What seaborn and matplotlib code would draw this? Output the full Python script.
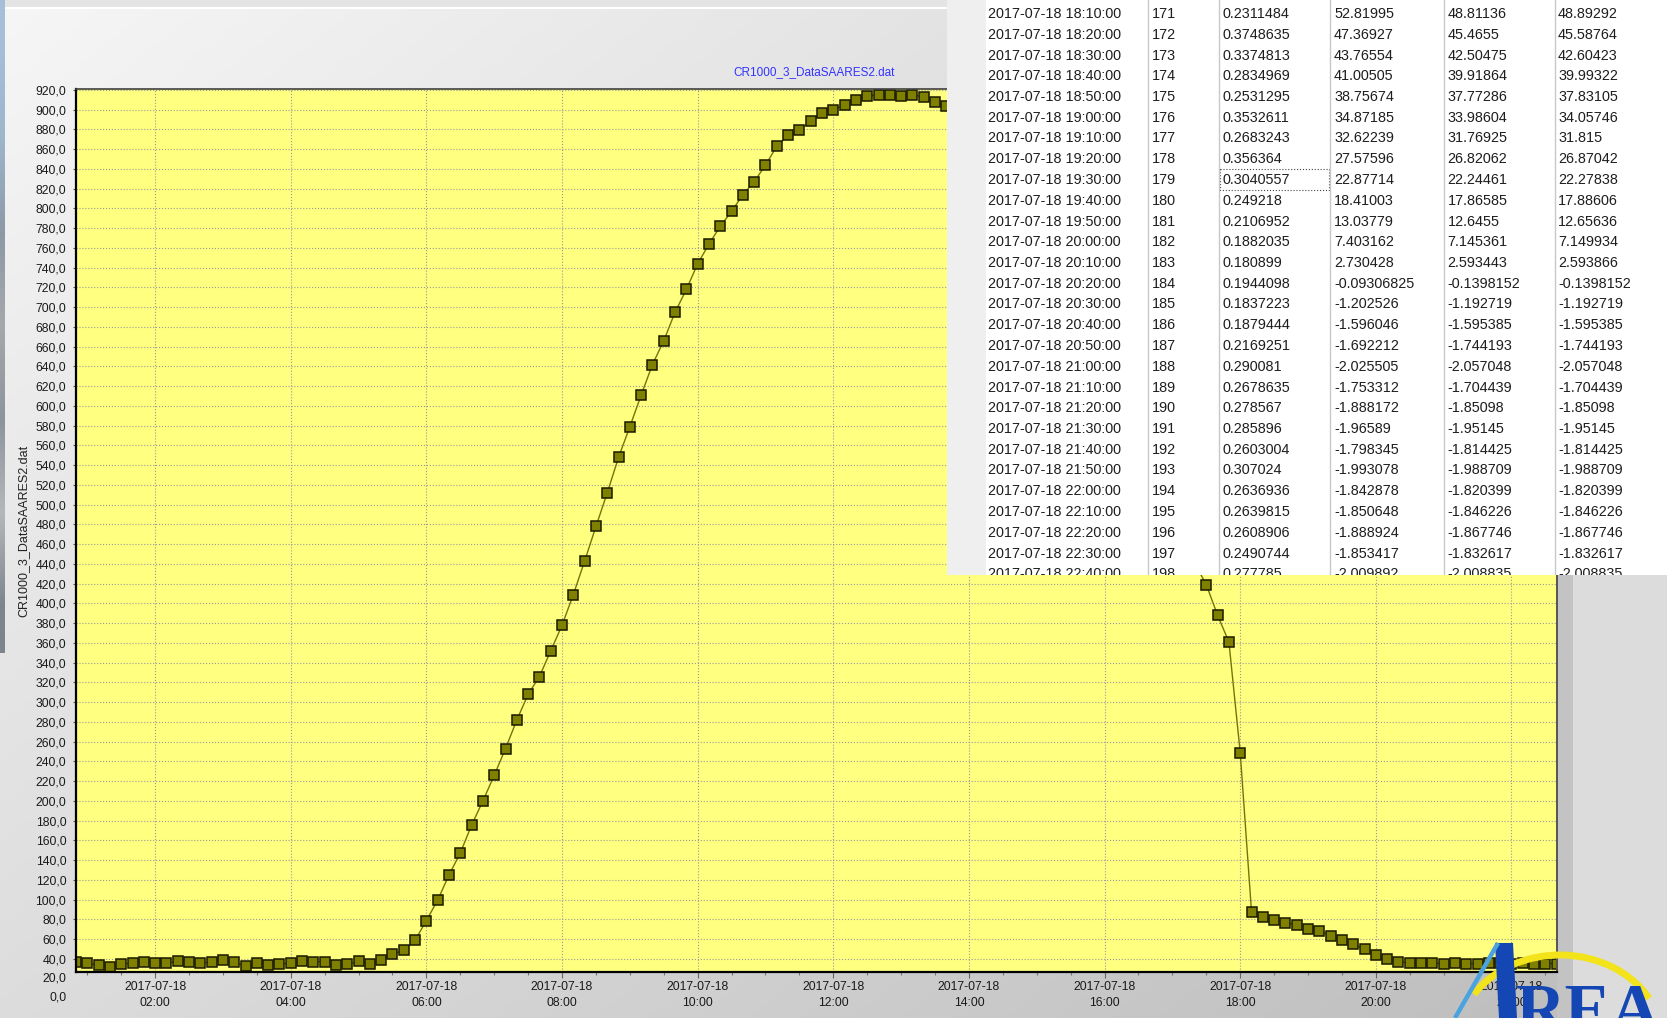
import matplotlib
matplotlib.use("Agg")
import matplotlib.pyplot as plt
from matplotlib.patches import Rectangle, Polygon, Arc
import numpy as np
import pandas as pd
import seaborn as sns

W, H = 1667, 1018

# values, one sample every 10 minutes on 2017-07-18
morning_start = "2017-07-18 00:50"
morning_vals = [36.6, 35.9, 33.6, 32.3, 34.6, 35.9, 37.0, 35.6, 35.6, 38.2,
                37.0, 35.6, 37.3, 39.3, 37.0, 32.6, 35.6, 33.9, 35.3, 35.6,
                38.2, 37.3, 37.3, 33.6, 34.6, 37.6, 34.6, 39.3, 45.0, 48.7,
                59.0, 78.9, 99.6, 125.1, 147.3, 175.6, 200, 226, 253, 282,
                308, 326, 352, 378, 409, 443, 478, 512, 548, 579,
                611, 642, 666, 695, 718, 744, 764, 782, 797, 814,
                827, 844, 863, 874, 879, 889, 897, 900, 905, 910,
                914, 915, 915, 914, 915, 913, 908, 904]
# the part between 13:50 and 17:20 is hidden behind the table
evening_start = "2017-07-18 17:30"
evening_vals = [419, 388, 361, 249, 87.9, 82.7, 79.3, 76.6, 74.5, 70.7,
                68.5, 63.7, 59.2, 54.9, 49.7, 44.4, 39.9, 37.2, 36.1, 35.7,
                35.6, 35.3, 35.5, 35.4, 35.3, 35.5, 35.5, 35.4, 35.5, 35.3,
                35.4, 35.3]

y_ticks = list(range(40, 921, 20))
y_labels = [f"{v},0" for v in y_ticks]
x_hours = ["02:00", "04:00", "06:00", "08:00", "10:00", "12:00",
           "14:00", "16:00", "18:00", "20:00", "22:00"]
x_start, x_end = "2017-07-18 00:50", "2017-07-18 22:40"
series_name = "CR1000_3_DataSAARES2.dat"

# table window laid over the chart
tbl_clock = ["18:10", "18:20", "18:30", "18:40", "18:50", "19:00", "19:10",
             "19:20", "19:30", "19:40", "19:50", "20:00", "20:10", "20:20",
             "20:30", "20:40", "20:50", "21:00", "21:10", "21:20", "21:30",
             "21:40", "21:50", "22:00", "22:10", "22:20", "22:30", "22:40"]
tbl_rec = [str(n) for n in range(171, 199)]
tbl_c3 = ["0.2311484", "0.3748635", "0.3374813", "0.2834969", "0.2531295",
          "0.3532611", "0.2683243", "0.356364", "0.3040557", "0.249218",
          "0.2106952", "0.1882035", "0.180899", "0.1944098", "0.1837223",
          "0.1879444", "0.2169251", "0.290081", "0.2678635", "0.278567",
          "0.285896", "0.2603004", "0.307024", "0.2636936", "0.2639815",
          "0.2608906", "0.2490744", "0.277785"]
tbl_c4 = ["52.81995", "47.36927", "43.76554", "41.00505", "38.75674",
          "34.87185", "32.62239", "27.57596", "22.87714", "18.41003",
          "13.03779", "7.403162", "2.730428", "-0.09306825", "-1.202526",
          "-1.596046", "-1.692212", "-2.025505", "-1.753312", "-1.888172",
          "-1.96589", "-1.798345", "-1.993078", "-1.842878", "-1.850648",
          "-1.888924", "-1.853417", "-2.009892"]
tbl_c5 = ["48.81136", "45.4655", "42.50475", "39.91864", "37.77286",
          "33.98604", "31.76925", "26.82062", "22.24461", "17.86585",
          "12.6455", "7.145361", "2.593443", "-0.1398152", "-1.192719",
          "-1.595385", "-1.744193", "-2.057048", "-1.704439", "-1.85098",
          "-1.95145", "-1.814425", "-1.988709", "-1.820399", "-1.846226",
          "-1.867746", "-1.832617", "-2.008835"]
tbl_c6 = ["48.89292", "45.58764", "42.60423", "39.99322", "37.83105",
          "34.05746", "31.815", "26.87042", "22.27838", "17.88606",
          "12.65636", "7.149934", "2.593866", "-0.1398152", "-1.192719",
          "-1.595385", "-1.744193", "-2.057048", "-1.704439", "-1.85098",
          "-1.95145", "-1.814425", "-1.988709", "-1.820399", "-1.846226",
          "-1.867746", "-1.832617", "-2.008835"]

plt.rcParams["font.family"] = ["Liberation Sans", "DejaVu Sans"]

df = pd.concat([
    pd.DataFrame({"time": pd.date_range(morning_start, periods=len(morning_vals), freq="10min"),
                  "value": morning_vals}),
    pd.DataFrame({"time": pd.date_range(evening_start, periods=len(evening_vals), freq="10min"),
                  "value": evening_vals}),
], ignore_index=True)

fig = plt.figure(figsize=(W / 100, H / 100), dpi=100)

# window background (pixel coordinates)
bg = fig.add_axes([0, 0, 1, 1], zorder=0)
gx = np.linspace(0, 1, 400)[None, :]
gy = np.linspace(0, 1, 300)[:, None]
shade = 0.965 - 0.12 * gx - 0.10 * gy
bg.imshow(np.dstack([shade] * 3), extent=(0, 1573, H, 0), aspect="auto",
          interpolation="bilinear")
photo = np.array([[0.65, 0.75, 0.84], [0.62, 0.71, 0.80], [0.55, 0.60, 0.65],
                  [0.65, 0.66, 0.67], [0.55, 0.58, 0.61], [0.71, 0.72, 0.73],
                  [0.49, 0.52, 0.55]])[:, None, :]
bg.imshow(photo, extent=(0, 5, 653, 0), aspect="auto", interpolation="bilinear")
bg.add_patch(Rectangle((1573, 0), W - 1573, H, color="#dcdcdc", lw=0))
bg.add_patch(Rectangle((1557, 0), 16, H, color="#c3c3c3", lw=0))
bg.add_patch(Rectangle((5, 0), W, 7, color="#e4e4e4", lw=0))
bg.add_patch(Rectangle((5, 7), W, 1.5, color="white", lw=0))
bg.set_xlim(0, W)
bg.set_ylim(H, 0)
bg.axis("off")

# chart
ax = fig.add_axes([76 / W, (H - 971.7) / H, 1480.7 / W, 882.7 / H], zorder=2)
ax.set_facecolor("#ffff80")
sns.lineplot(data=df, x="time", y="value", ax=ax, estimator=None, sort=False,
             color="#74740a", linewidth=1.0, marker="s", markersize=7.4,
             markerfacecolor="#808000", markeredgecolor="#1a1a00",
             markeredgewidth=1.1)
ax.set_xlabel("")
ax.set_ylabel("")
ax.set_ylim(27.1, 921.0)
ax.set_yticks(y_ticks)
ax.set_yticklabels(y_labels)
ax.set_xlim(pd.Timestamp(x_start), pd.Timestamp(x_end))
ax.set_xticks([pd.Timestamp(f"2017-07-18 {h}") for h in x_hours])
ax.set_xticklabels([f"2017-07-18\n{h}" for h in x_hours], linespacing=1.45)
ax.set_xticks(pd.date_range("2017-07-18 01:00", "2017-07-18 22:30", freq="30min"), minor=True)
ax.grid(True, which="major", linestyle=":", color="#9a9a9a", linewidth=0.8)
ax.set_axisbelow(True)
ax.tick_params(axis="y", direction="out", length=2.5, width=0.8, color="#555555",
               labelsize=8.8, pad=4.5, labelcolor="#1a1a1a")
ax.tick_params(axis="x", which="major", direction="out", length=4, width=0.8,
               color="#666666", labelsize=8.8, pad=2.5, labelcolor="#1a1a1a")
ax.tick_params(axis="x", which="minor", direction="out", length=2.4, width=0.8,
               color="#777777")
for side in ["left", "bottom"]:
    ax.spines[side].set_linewidth(1.6)
    ax.spines[side].set_color("black")
ax.spines["top"].set_linewidth(1.2)
ax.spines["top"].set_color("#404040")
ax.spines["right"].set_linewidth(1.4)
ax.spines["right"].set_color("#555555")

fig.text(814 / W, 1 - 72 / H, series_name, ha="center", va="center",
         color="#3333ff", fontsize=8.5)
fig.text(23 / W, 1 - 531 / H, series_name, ha="center", va="center",
         rotation=90, color="#222222", fontsize=9)
for lab, ypx in [("20,0", 978.5), ("0,0", 998)]:
    fig.text(66.7 / W, 1 - ypx / H, lab, ha="right", va="center",
             fontsize=8.8, color="#1a1a1a")

# data table window
tab = fig.add_axes([947 / W, 1 - 575 / H, (W - 947) / W, 575 / H], zorder=5)
tab.set_xlim(947, W)
tab.set_ylim(575, 0)
tab.axis("off")
tab.add_patch(Rectangle((947, 0), 39, 575, color="#efefef", lw=0))
tab.add_patch(Rectangle((986, 0), W - 986, 575, color="white", lw=0))
for xs in [1147.5, 1219, 1330, 1443.8, 1554.5]:
    tab.plot([xs, xs], [0, 575], color="#c8c8c8", lw=1)
col_x = [988, 1152, 1222.5, 1334, 1447.5, 1558]
for k in range(len(tbl_clock)):
    row = [f"2017-07-18 {tbl_clock[k]}:00", tbl_rec[k], tbl_c3[k],
           tbl_c4[k], tbl_c5[k], tbl_c6[k]]
    yk = 14.0 + 20.75 * k
    for xc, txt in zip(col_x, row):
        tab.text(xc, yk, txt, ha="left", va="center", fontsize=10.4,
                 color="#1e1e1e", clip_on=True)
tab.add_patch(Rectangle((1220, 169), 109, 21, fill=False, ls=":",
                        ec="#444444", lw=0.8))

# logo in the bottom right corner
lg = fig.add_axes([0, 0, 1, 1], zorder=6)
lg.set_xlim(0, W)
lg.set_ylim(H, 0)
lg.axis("off")
lg.plot([1455, 1498], [1018, 943], color="#4aa3df", lw=3.2, solid_capstyle="butt")
lg.add_patch(Arc((1560, 1040), 204, 170, theta1=208, theta2=335,
                 color="#f2e31a", lw=5))
lg.add_patch(Polygon([(1495, 943), (1513, 943), (1517, 1018), (1499, 1018)],
                     closed=True, color="#1446b4", lw=0))
lg.text(1516, 1032, "REA", ha="left", va="baseline", fontsize=49.5,
        family=["Liberation Serif", "DejaVu Serif"], weight="bold",
        color="#1446b4", clip_on=False)

fig.savefig("out.png", dpi=100)
